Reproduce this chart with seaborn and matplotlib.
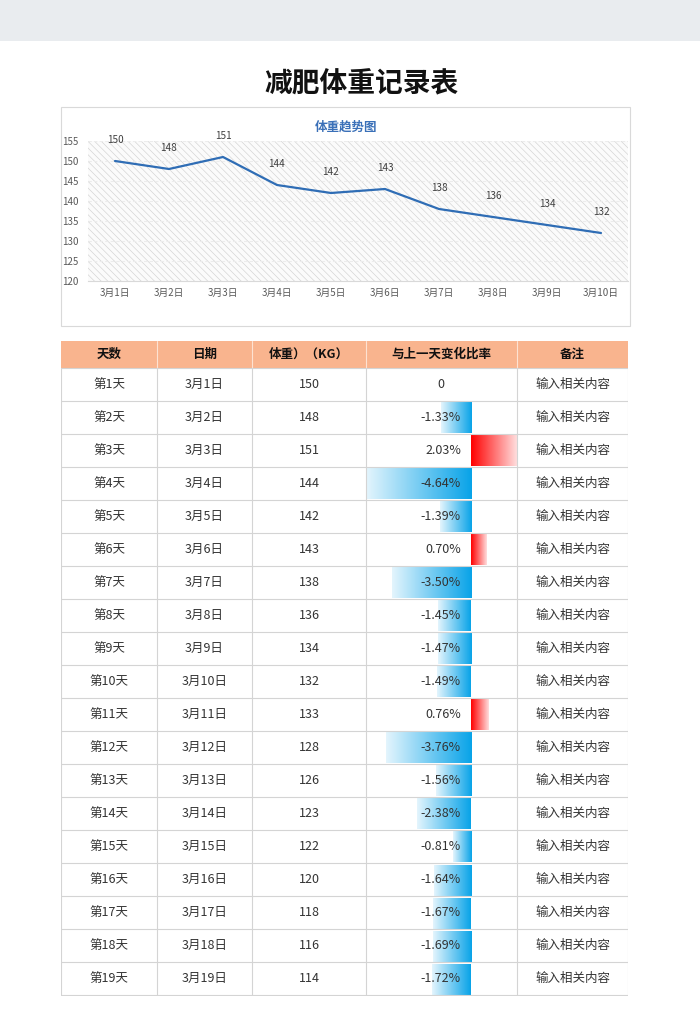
import numpy as np
import pandas as pd
import seaborn as sns
import matplotlib.pyplot as plt
from matplotlib.patches import Rectangle
from matplotlib.colors import LinearSegmentedColormap

# data
days = ['第1天', '第2天', '第3天', '第4天', '第5天', '第6天', '第7天', '第8天', '第9天', '第10天',
        '第11天', '第12天', '第13天', '第14天', '第15天', '第16天', '第17天', '第18天', '第19天']
dates = ['3月1日', '3月2日', '3月3日', '3月4日', '3月5日', '3月6日', '3月7日', '3月8日', '3月9日', '3月10日',
         '3月11日', '3月12日', '3月13日', '3月14日', '3月15日', '3月16日', '3月17日', '3月18日', '3月19日']
weights = [150, 148, 151, 144, 142, 143, 138, 136, 134, 132,
           133, 128, 126, 123, 122, 120, 118, 116, 114]
changes = [0, -1.33, 2.03, -4.64, -1.39, 0.70, -3.50, -1.45, -1.47, -1.49,
           0.76, -3.76, -1.56, -2.38, -0.81, -1.64, -1.67, -1.69, -1.72]
notes = ['输入相关内容'] * 19
headers = ['天数', '日期', '体重）（KG）', '与上一天变化比率', '备注']

chart_dates = dates[:10]
chart_weights = weights[:10]

sns.set_style('white')
plt.rcParams['font.family'] = ['Noto Sans CJK SC', 'DejaVu Sans']
plt.rcParams['hatch.linewidth'] = 0.45

W, H = 700, 1030
fig = plt.figure(figsize=(7, 10.3), dpi=100)


def fx(px):
    return px / W


def fy(py):
    return 1 - py / H


# page decoration
fig.add_artist(Rectangle((0, fy(41)), 1, 41 / H, transform=fig.transFigure,
                         facecolor='#e9ecef', lw=0, zorder=0))
fig.text(fx(362), fy(84), '减肥体重记录表', ha='center', va='center',
         fontsize=20, fontweight='bold', color='#111111')
fig.add_artist(Rectangle((fx(61), fy(326)), (630 - 61) / W, (326 - 107) / H,
                         transform=fig.transFigure, fill=False,
                         edgecolor='#d9d9d9', lw=0.8))
fig.text(fx(346), fy(127), '体重趋势图', ha='center', va='center',
         fontsize=9, fontweight='bold', color='#3a70b8')

# ---- line chart ----
ax = fig.add_axes([fx(88), fy(281), 540 / W, 140 / H])
ax.add_patch(Rectangle((0, 0), 1, 1, transform=ax.transAxes, facecolor='#fbfbfb',
                       edgecolor='#d2d2d2', hatch='\\' * 5, lw=0, zorder=0))
xs = np.arange(len(chart_weights))
sns.lineplot(x=xs, y=chart_weights, ax=ax, color='#2f6db5', linewidth=1.6, zorder=3)
for i, w in zip(xs, chart_weights):
    ax.annotate(str(w), (i, w), xytext=(0, 15), textcoords='offset points',
                ha='center', va='center', fontsize=7.2, color='#404040')

ax.set_xlim(-0.5, len(chart_weights) - 0.5)
ax.set_ylim(120, 155)
ax.set_yticks(range(120, 156, 5))
ax.set_xticks(xs)
ax.set_xticklabels(chart_dates)
ax.set_xticks(np.arange(-0.5, len(chart_weights), 1), minor=True)
ax.tick_params(axis='x', which='major', length=0, pad=5, labelsize=7, labelcolor='#595959')
ax.tick_params(axis='x', which='minor', length=4, color='#d9d9d9', width=0.8, direction='out')
ax.tick_params(axis='y', length=0, pad=7, labelsize=7, labelcolor='#595959')
ax.yaxis.grid(True, color='#ececec', lw=0.8, ls=(0, (3, 2)))
ax.set_axisbelow(True)
for s in ['top', 'left', 'right']:
    ax.spines[s].set_visible(False)
ax.spines['bottom'].set_color('#d9d9d9')
ax.spines['bottom'].set_linewidth(0.8)
ax.set_xlabel('')
ax.set_ylabel('')

# ---- data bars in the change column ----
bx = fig.add_axes([fx(366), fy(996), 151 / W, (996 - 368) / H], zorder=1)
sns.barplot(x=changes, y=days, orient='h', ax=bx, width=0.92, color='white')
blue = LinearSegmentedColormap.from_list('blue_bar', ['#e4f5fd', '#08a3e8'])
red = LinearSegmentedColormap.from_list('red_bar', ['#ff0000', '#ffdede'])
grad = np.linspace(0, 1, 256).reshape(1, -1)
for p, v in zip(bx.patches, changes):
    p.set_facecolor('none')
    p.set_edgecolor('none')
    if v == 0:
        continue
    x0 = p.get_x()
    x1 = x0 + p.get_width()
    y0 = p.get_y()
    y1 = y0 + p.get_height()
    bx.imshow(grad, extent=[min(x0, x1), max(x0, x1), y1, y0],
              cmap=blue if v < 0 else red, aspect='auto', interpolation='bilinear')
bx.set_xlim(min(changes), max(changes))
bx.set_ylim(len(days) - 0.5, -0.5)
bx.axis('off')

# ---- table grid and text ----
tb = fig.add_axes([fx(61), fy(996), 567 / W, 655 / H], zorder=2)
tb.patch.set_alpha(0)
tb.set_xlim(0, 567)
tb.set_ylim(655, 0)
tb.axis('off')

col_edges = [0, 96, 191, 305, 456, 567]
head_h = 27
row_h = 33
grid_c = '#d4d4d4'
txt_c = '#333333'

tb.add_patch(Rectangle((0, 0), 567, head_h, facecolor='#f9b48e', lw=0))
for e in col_edges[1:-1]:
    tb.plot([e, e], [0, head_h], color='#fde2d2', lw=0.8)
for j, h in enumerate(headers):
    cx = (col_edges[j] + col_edges[j + 1]) / 2
    tb.text(cx, head_h / 2, h, ha='center', va='center', fontsize=9,
            fontweight='bold', color='#111111')

n = len(days)
bottom = head_h + row_h * n
for i in range(n + 1):
    y = head_h + row_h * i
    tb.plot([0, 567], [y, y], color=grid_c, lw=0.8)
for e in col_edges:
    tb.plot([e, e], [head_h, bottom], color=grid_c, lw=0.8)

for i in range(n):
    cy = head_h + row_h * (i + 0.5)
    row = [days[i], dates[i], str(weights[i])]
    for j, t in enumerate(row):
        cx = (col_edges[j] + col_edges[j + 1]) / 2
        tb.text(cx, cy, t, ha='center', va='center', fontsize=9, color=txt_c)
    if changes[i] == 0:
        tb.text(383, cy, '0', ha='right', va='center', fontsize=9, color=txt_c)
    else:
        tb.text(400, cy, f'{changes[i]:.2f}%', ha='right', va='center',
                fontsize=9, color=txt_c)
    tb.text((col_edges[4] + col_edges[5]) / 2, cy, notes[i], ha='center',
            va='center', fontsize=9, color=txt_c)

fig.savefig('out.png', dpi=100)
